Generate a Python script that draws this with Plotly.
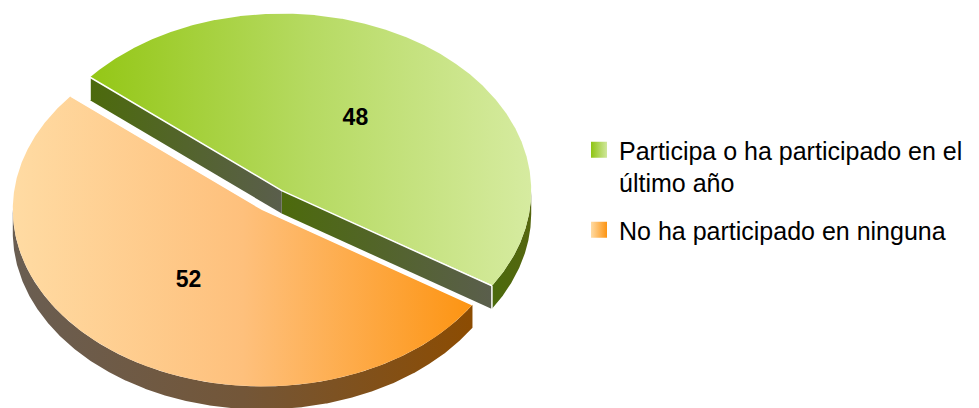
import numpy as np
import plotly.graph_objects as go

# ---- data ----
categories = ["Participa o ha participado en el<br>último año", "No ha participado en ninguna"]
values = [48, 52]
value_labels = ["48", "52"]

# ---- style ----
top_scales = [
    [[0, "#94c716"], [0.5, "#b6da62"], [1, "#d6eba0"]],
    [[0, "#ffdba3"], [0.5, "#fec07c"], [1, "#fd9412"]],
]
side_scales = [
    [[0, "#4b6a0c"], [1, "#55660f"]],
    [[0, "#6a5e52"], [0.5, "#735638"], [1, "#8c4c02"]],
]
cut_scales = [
    [[0, "#4c6a0c"], [1, "#5a5e4c"]],
    [[0, "#6a5e52"], [1, "#8c4c02"]],
]
swatch_colors = [("#8fc514", "#d0e79c"), ("#ffdba3", "#fd9412")]

# page body has an 8px margin: the figure sits at (8, 8) in the window
OFF = 8
FIG_W, FIG_H = 979 - OFF, 408 - OFF
CX, CY = 272.0, 200.0      # pie centre (axis units = window pixels)
A, B = 249.5, 177.0        # ellipse semi-axes of top face
DEPTH = 23.0
PULL = 0.066
START_DEG = -32.6
FONT = "Liberation Sans, Arial, sans-serif"

fig = go.Figure()

total = float(sum(values))
slices = []
start = START_DEG
for v in values:
    span = v / total * 360.0
    slices.append((start, start + span))
    start += span


def rim(c, th_deg, dy=0.0):
    t = np.radians(th_deg)
    return c[0] + A * np.cos(t), c[1] - B * np.sin(t) + dy


def add_poly(xs, ys, scale):
    fig.add_trace(go.Scatter(
        x=list(xs), y=list(ys), mode="lines", fill="toself",
        line=dict(width=0, color="rgba(0,0,0,0)"),
        fillgradient=dict(type="horizontal", colorscale=scale),
        hoverinfo="skip", showlegend=False))


def add_line(xs, ys):
    fig.add_trace(go.Scatter(
        x=list(xs), y=list(ys), mode="lines",
        line=dict(width=1.5, color="white"),
        hoverinfo="skip", showlegend=False))


label_x, label_y = [], []
for i, (ts, te) in enumerate(slices):
    mid = np.radians((ts + te) / 2)
    c = (CX + PULL * A * np.cos(mid), CY - PULL * B * np.sin(mid))

    vis = ((ts, np.cos(np.radians(ts)) > 0), (te, np.cos(np.radians(te)) < 0))

    # cut faces (radial walls) visible from the front
    for th, visible in vis:
        if visible:
            rx, ry = rim(c, th)
            add_poly([c[0], rx, rx, c[0], c[0]], [c[1], ry, ry + DEPTH, c[1] + DEPTH, c[1]], cut_scales[i])

    # outer rim side (front half)
    th = np.linspace(ts, te, 800)
    front = th[np.sin(np.radians(th)) <= 1e-9]
    if len(front) > 1:
        tx, ty = rim(c, front)
        bx, by = rim(c, front[::-1], DEPTH)
        add_poly(np.r_[tx, bx, tx[:1]], np.r_[ty, by, ty[:1]], side_scales[i])

    # top face
    ax, ay = rim(c, th)
    add_poly(np.r_[c[0], ax, c[0]], np.r_[c[1], ay, c[1]], top_scales[i])

    # white edges
    sx, sy = rim(c, ts)
    ex, ey = rim(c, te)
    add_line([sx, c[0], ex], [sy, c[1], ey])
    for thc, visible in vis:
        if visible:
            rx, ry = rim(c, thc)
            add_line([rx, rx], [ry, ry + DEPTH])

    lx, ly = c[0] + 0.5 * A * np.cos(mid), c[1] - 0.5 * B * np.sin(mid)
    label_x.append(lx)
    label_y.append(ly)

fig.add_trace(go.Scatter(
    x=label_x, y=label_y, mode="text", text=value_labels,
    textposition="middle center",
    textfont=dict(family=FONT, size=23, color="black", weight="bold"),
    hoverinfo="skip", showlegend=False))

# legend entries
for i, name in enumerate(categories):
    c1, c2 = swatch_colors[i]
    fig.add_trace(go.Scatter(
        x=[None], y=[None], mode="markers", name=name,
        legendgroup=f"g{i}",
        marker=dict(symbol="square", size=16, color=c1,
                    gradient=dict(type="horizontal", color=c2),
                    line=dict(width=0)),
        showlegend=True))

fig.update_layout(
    width=FIG_W, height=FIG_H,
    margin=dict(l=0, r=0, t=0, b=0),
    paper_bgcolor="white", plot_bgcolor="white",
    xaxis=dict(range=[OFF, OFF + FIG_W], visible=False, fixedrange=True),
    yaxis=dict(range=[OFF + FIG_H, OFF], visible=False, fixedrange=True),
    showlegend=True,
    legend=dict(
        x=(579 - OFF) / FIG_W, y=1 - (127 - OFF) / FIG_H,
        xanchor="left", yanchor="top",
        font=dict(family=FONT, size=25, color="black"),
        bgcolor="rgba(0,0,0,0)", borderwidth=0,
        valign="top", tracegroupgap=12, itemclick=False, itemdoubleclick=False,
    ),
)

fig.write_html("out.html")
